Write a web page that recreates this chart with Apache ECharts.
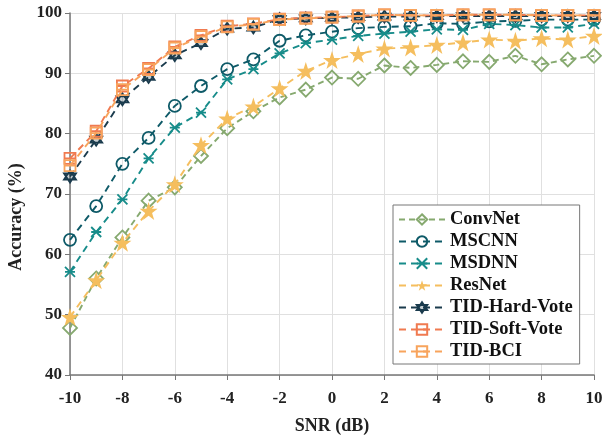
<!DOCTYPE html>
<html>
<head>
<meta charset="utf-8">
<script src="https://cdn.jsdelivr.net/npm/echarts@6/dist/echarts.min.js"></script>
<style>html,body{margin:0;padding:0;background:#fff}#c{width:602px;height:437px}</style>
</head>
<body>
<div id="c"></div>
<script>
const snr = [-10,-9,-8,-7,-6,-5,-4,-3,-2,-1,0,1,2,3,4,5,6,7,8,9,10];
const convnet = [47.8,56.0,62.8,68.9,71.1,76.3,80.9,83.7,86.0,87.3,89.3,89.1,91.3,90.9,91.4,92.0,91.9,92.9,91.5,92.3,92.9];
const mscnn = [62.4,68.0,75.0,79.3,84.6,87.9,90.7,92.3,95.4,96.3,96.9,97.5,97.7,97.8,98.3,98.2,98.6,98.7,98.9,98.9,98.9];
const msdnn = [57.1,63.7,69.1,75.9,81.0,83.5,89.0,90.7,93.3,95.0,95.6,96.2,96.6,96.9,97.3,97.2,98.2,98.0,97.6,97.6,98.2];
const resnet = [49.6,55.7,61.9,67.2,71.6,78.1,82.5,84.5,87.5,90.4,92.2,93.2,94.1,94.3,94.7,95.1,95.6,95.4,95.8,95.6,96.2];
const hardVote = [72.9,79.0,85.7,89.4,93.0,95.0,97.4,97.6,99.0,99.1,99.2,99.3,99.4,99.4,99.5,99.5,99.5,99.5,99.5,99.5,99.5];
const softVote = [75.9,80.4,87.9,90.8,94.4,96.3,97.8,98.2,99.0,99.2,99.3,99.5,99.7,99.6,99.6,99.7,99.7,99.7,99.6,99.6,99.6];
const bci = [74.7,80.1,87.3,90.6,94.2,96.1,97.7,98.1,98.9,99.1,99.3,99.5,99.7,99.6,99.6,99.7,99.7,99.7,99.6,99.6,99.6];
const names = ['ConvNet','MSCNN','MSDNN','ResNet','TID-Hard-Vote','TID-Soft-Vote','TID-BCI'];

const font = 'Liberation Serif';
const pair = arr => snr.map((x,i)=>[x,arr[i]]);

const starPath = 'path://M50,0L61.8,35.4L99,35.4L69,57.3L80.4,92.7L50,70.8L19.6,92.7L31,57.3L1,35.4L38.2,35.4Z';
const crossPath = 'path://M0,0L10,10M10,0L0,10M0,5L10,5';
const hexPath = 'path://M50,0L93.3,75L6.7,75ZM50,100L6.7,25L93.3,25Z';
const rectPath = 'path://M0,0L10,0L10,10L0,10ZM0,5L10,5';
const clear = 'rgba(0,0,0,0)';

function mk(name, data, color, symbol, size, fill, bw, z, dash){
  return {
    name, type:'line', data: pair(data), symbol, symbolSize: size, z: z,
    lineStyle:{color, width:1.9, type:dash || [7,5]},
    itemStyle:{color: fill, borderColor: color, borderWidth: bw},
    emphasis:{disabled:true}
  };
}

const chart = echarts.init(document.getElementById('c'), null, {renderer:'canvas'});
chart.setOption({
  animation:false,
  backgroundColor:'#fff',
  grid:{left:70, right:8, top:13, bottom:62, outerBoundsMode:'none', containLabel:false},
  legend:{
    orient:'vertical', left:393, top:205,
    data:names,
    itemWidth:46, itemHeight:13, itemGap:3,
    padding:[5,7,3,5],
    borderColor:'#777', borderWidth:1, backgroundColor:'#fff',
    textStyle:{fontFamily:font, fontWeight:'bold', fontSize:18.5, color:'#111', lineHeight:18}
  },
  xAxis:{
    type:'value', min:-10, max:10, interval:2,
    name:'SNR (dB)', nameLocation:'middle', nameGap:42,
    nameTextStyle:{fontFamily:font, fontWeight:'bold', fontSize:18, color:'#222'},
    axisLine:{onZero:false, lineStyle:{color:'#777', width:1.5}},
    axisTick:{inside:false, length:5, lineStyle:{color:'#777'}},
    axisLabel:{fontFamily:font, fontWeight:'bold', fontSize:17, color:'#222', margin:15},
    splitLine:{show:true, lineStyle:{color:'#e0e0e0', width:1}}
  },
  yAxis:{
    type:'value', min:40, max:100, interval:10,
    name:'Accuracy (%)', nameLocation:'middle', nameGap:44,
    nameTextStyle:{fontFamily:font, fontWeight:'bold', fontSize:18, color:'#222', padding:[0,46,0,0]},
    axisLine:{show:true, onZero:false, lineStyle:{color:'#777', width:1.5}},
    axisTick:{show:true, inside:false, length:5, lineStyle:{color:'#777'}},
    axisLabel:{fontFamily:font, fontWeight:'bold', fontSize:17, color:'#222', margin:8},
    splitLine:{show:true, lineStyle:{color:'#e0e0e0', width:1}}
  },
  series:[
    mk('ConvNet', convnet, '#86a96f', 'diamond', 14, clear, 1.8, 2, [6,4]),
    mk('MSCNN', mscnn, '#0e5a68', 'circle', 12, clear, 1.8, 3),
    mk('MSDNN', msdnn, '#178c8a', crossPath, 10, clear, 1.8, 4),
    mk('ResNet', resnet, '#f5be5e', starPath, 18, '#f5be5e', 0, 5),
    mk('TID-Hard-Vote', hardVote, '#1a3b4d', hexPath, 12, 'rgba(26,59,77,0.25)', 1.8, 6),
    mk('TID-Soft-Vote', softVote, '#f07a50', rectPath, 11, clear, 1.8, 7),
    mk('TID-BCI', bci, '#f8a45c', rectPath, 11, clear, 1.8, 8)
  ]
});
</script>
</body>
</html>
